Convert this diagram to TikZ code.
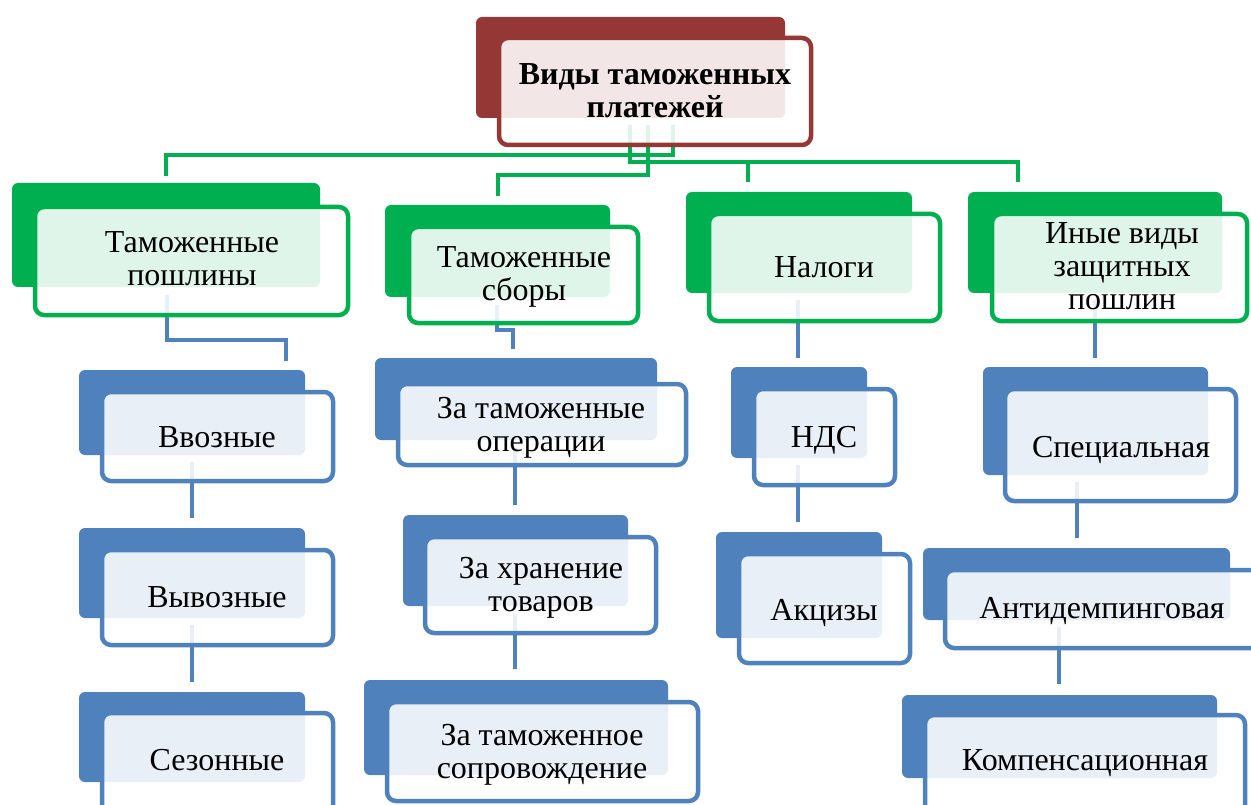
\documentclass[tikz,border=0pt]{standalone}
\usepackage{fontspec}
\setmainfont{Liberation Serif}
\definecolor{cgreen}{HTML}{00B050}
\definecolor{cred}{HTML}{953735}
\definecolor{cblue}{HTML}{4F81BD}
\tikzset{
 bk/.style={fill=#1, rounded corners=6pt},
 fr/.style={draw=#1, line width=4.5pt, fill=white, fill opacity=0.88, rounded corners=9pt},
 con/.style={draw=#1, line width=4.5pt},
 lbl/.style={font=\fontsize{32}{33}\selectfont, align=center, anchor=base, inner sep=0pt, text=black}
}
\newcommand\pairbox[9]{%
 \fill[bk=#1] (#2,#3) rectangle (#4,#5);
 \draw[fr=#1] (#6,#7) rectangle (#8,#9);
}
\begin{document}
\begin{tikzpicture}[x=1pt,y=-1pt]
\useasboundingbox (0,0) rectangle (1251,805);
\clip (0,0) rectangle (1251,805);
% connector end points
\coordinate (r1) at (673,125); \coordinate (r1e) at (166,176);
\coordinate (r2) at (648,125); \coordinate (r2e) at (498,196);
\coordinate (r3) at (630,125); \coordinate (r3e) at (748,182);
\coordinate (r4e) at (1018,182);
\coordinate (p1) at (167,295); \coordinate (p1e) at (286,361);
\coordinate (s1) at (497,305); \coordinate (s1e) at (513,349);
\coordinate (o1) at (515,448); \coordinate (o1e) at (515,505);
\coordinate (h1) at (515,614); \coordinate (h1e) at (515,669);
\coordinate (v1) at (192,462); \coordinate (v1e) at (192,518);
\coordinate (w1) at (192,625); \coordinate (w1e) at (192,682);
\coordinate (n1) at (798,300); \coordinate (n1e) at (798,358);
\coordinate (d1) at (798,465); \coordinate (d1e) at (798,522);
\coordinate (i1) at (1095,300); \coordinate (i1e) at (1095,358);
\coordinate (c1) at (1077,482); \coordinate (c1e) at (1077,538);
\coordinate (a1) at (1059,627); \coordinate (a1e) at (1059,684);
% connectors
\draw[con=cgreen] (r1) |- (166,155) -- (r1e);
\draw[con=cgreen] (r2) |- (498,175) -- (r2e);
\draw[con=cgreen] (r3) |- (1018,162) -- (r4e);
\draw[con=cgreen] (748,162) -- (r3e);
\draw[con=cblue] (p1) |- (286,340) -- (p1e);
\draw[con=cblue] (s1) |- (513,330) -- (s1e);
\draw[con=cblue] (o1) -- (o1e);
\draw[con=cblue] (h1) -- (h1e);
\draw[con=cblue] (v1) -- (v1e);
\draw[con=cblue] (w1) -- (w1e);
\draw[con=cblue] (n1) -- (n1e);
\draw[con=cblue] (d1) -- (d1e);
\draw[con=cblue] (i1) -- (i1e);
\draw[con=cblue] (c1) -- (c1e);
\draw[con=cblue] (a1) -- (a1e);
% boxes
\pairbox{cred}{476}{17}{785}{118}{499}{38}{811}{145}
\pairbox{cgreen}{12}{183}{320}{287}{35}{207}{348}{315}
\pairbox{cgreen}{385}{205}{610}{297}{409}{227}{638}{323}
\pairbox{cgreen}{686}{192}{912}{293}{709}{214}{940}{321}
\pairbox{cgreen}{968}{192}{1222}{293}{992}{214}{1247}{321}
\pairbox{cblue}{79}{370}{305}{455}{102}{392}{333}{481}
\pairbox{cblue}{79}{528}{305}{618}{102}{550}{333}{645}
\pairbox{cblue}{79}{692}{305}{782}{102}{713}{333}{815}
\pairbox{cblue}{375}{358}{657}{440}{398}{384}{686}{465}
\pairbox{cblue}{403}{515}{628}{606}{425}{537}{656}{633}
\pairbox{cblue}{364}{680}{668}{775}{387}{702}{698}{801}
\pairbox{cblue}{731}{367}{867}{458}{754}{389}{895}{485}
\pairbox{cblue}{716}{532}{882}{638}{739}{554}{910}{663}
\pairbox{cblue}{983}{367}{1208}{475}{1005}{389}{1236}{501}
\pairbox{cblue}{923}{548}{1230}{620}{945}{570}{1262}{648}
\pairbox{cblue}{902}{695}{1217}{778}{925}{715}{1245}{815}
% labels (anchor = baseline of the last line)
\node[lbl, font=\fontsize{32}{33}\selectfont\bfseries] (root) at (655,118) {Виды таможенных\\платежей};
\node[lbl] (tp) at (192,286) {Таможенные\\пошлины};
\node[lbl] (ts) at (524,301) {Таможенные\\сборы};
\node[lbl] (nal) at (824,277) {Налоги};
\node[lbl] (in) at (1122,309) {Иные виды\\защитных\\пошлин};
\node[lbl] (vvoz) at (217,447) {Ввозные};
\node[lbl] (vyvoz) at (217,607) {Вывозные};
\node[lbl] (sez) at (217,770) {Сезонные};
\node[lbl] (oper) at (541,451) {За таможенные\\операции};
\node[lbl] (hran) at (541,611) {За хранение\\товаров};
\node[lbl] (sopr) at (542,778) {За таможенное\\сопровождение};
\node[lbl] (nds) at (824,447) {НДС};
\node[lbl] (akc) at (824,620) {Акцизы};
\node[lbl] (spec) at (1121,457) {Специальная};
\node[lbl] (anti) at (1102,618) {Антидемпинговая};
\node[lbl] (komp) at (1085,770) {Компенсационная};
\end{tikzpicture}
\end{document}
